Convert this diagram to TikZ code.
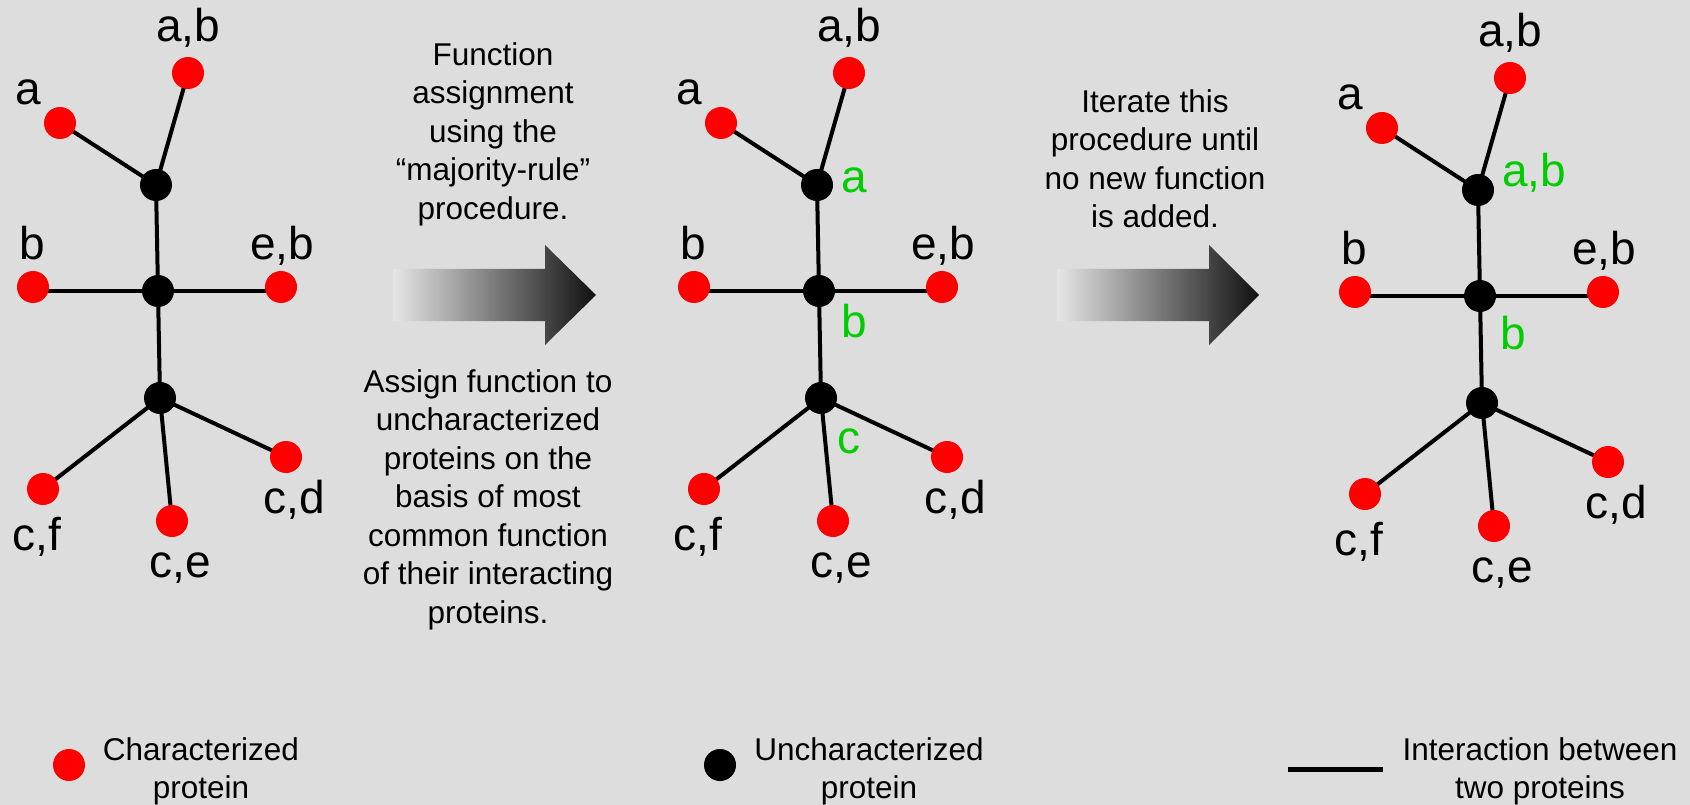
\documentclass[tikz,border=0pt]{standalone}
\usepackage{fontspec}
\setmainfont{Liberation Sans}
\definecolor{bg}{RGB}{221,221,221}
\definecolor{fgreen}{RGB}{0,204,0}
\definecolor{fred}{RGB}{255,0,0}
\definecolor{arrL}{RGB}{230,230,230}
\definecolor{arrR}{RGB}{16,16,16}
\pgfdeclarelayer{background}
\pgfsetlayers{background,main}
\begin{document}
\begin{tikzpicture}[x=1pt,y=-1pt,
  chr/.style={circle,fill=fred,minimum size=32pt,inner sep=0pt},
  unc/.style={circle,fill=black,minimum size=32pt,inner sep=0pt},
  edge/.style={line width=4pt,black},
  lab/.style={anchor=base,font=\fontsize{46}{50}\selectfont,inner sep=0pt},
  glab/.style={anchor=base west,text=fgreen,font=\fontsize{46}{50}\selectfont,inner sep=0pt},
  desc/.style={anchor=north,align=center,font=\fontsize{31.5}{38.5}\selectfont,inner sep=0pt},
  bigarrow/.style={left color=arrL,right color=arrR,draw=none}
]
\begin{pgfonlayer}{background}
\fill[bg] (0,0) rectangle (1690,805);
\end{pgfonlayer}
\useasboundingbox (0,0) rectangle (1690,805);

\foreach \g/\dx/\dy in {1/0/0,2/661/0,3/1322/5}{
\begin{scope}[shift={(\dx,\dy)}]
  \node[unc] (g\g-u1) at (156,185) {};
  \node[unc] (g\g-u2) at (158,291) {};
  \node[unc] (g\g-u3) at (160,398) {};
  \node[chr] (g\g-a)  at (60,123) {};
  \node[chr] (g\g-ab) at (188,73) {};
  \node[chr] (g\g-b)  at (33,287) {};
  \node[chr] (g\g-eb) at (281,287) {};
  \node[chr] (g\g-cd) at (286,457) {};
  \node[chr] (g\g-ce) at (172,521) {};
  \node[chr] (g\g-cf) at (43,489) {};
  \begin{pgfonlayer}{background}
  \draw[edge] (g\g-u1.center) -- (g\g-u2.center);
  \draw[edge] (g\g-u2.center) -- (g\g-u3.center);
  \draw[edge] (g\g-u1.center) -- (g\g-a.center);
  \draw[edge] (g\g-u1.center) -- (g\g-ab.center);
  \draw[edge] (g\g-u2.center) -- (g\g-u2.center -| g\g-b.center);
  \draw[edge] (g\g-u2.center) -- (g\g-u2.center -| g\g-eb.center);
  \draw[edge] (g\g-u3.center) -- (g\g-cd.center);
  \draw[edge] (g\g-u3.center) -- (g\g-ce.center);
  \draw[edge] (g\g-u3.center) -- (g\g-cf.center);
  \end{pgfonlayer}
  \node[lab] (g\g-lab) at (188,42) {a,b};
  \node[lab] (g\g-la)  at (28,105) {a};
  \node[lab] (g\g-lb)  at (32,260) {b};
  \node[lab] (g\g-leb) at (282,260) {e,b};
  \node[lab] (g\g-lcd) at (294,513) {c,d};
  \node[lab] (g\g-lcf) at (37,550) {c,f};
  \node[lab] (g\g-lce) at (180,577) {c,e};
\end{scope}
}

% green assigned functions
\node[glab] (g2-fa) at (841,193) {a};
\node[glab] (g2-fb) at (841,337) {b};
\node[glab] (g2-fc) at (837,453) {c};
\node[glab] (g3-fab) at (1502,187) {a,b};
\node[glab] (g3-fb) at (1500,349) {b};

% arrows
\shade[bigarrow] (393,269) -- (545,269) -- (545,245) -- (596,295) -- (545,345) -- (545,321) -- (393,321) -- cycle;
\shade[bigarrow] (1057,269) -- (1209,269) -- (1209,245) -- (1259,295) -- (1209,345) -- (1209,321) -- (1057,321) -- cycle;

% descriptions
\node[desc] (t1top) at (493,42.3) {Function\\assignment\\using the\\“majority-rule”\\procedure.};
\node[desc] (t1bot) at (488,369) {Assign function to\\uncharacterized\\proteins on the\\basis of most\\common function\\of their interacting\\proteins.};
\node[desc] (t2) at (1155,89.3) {Iterate this\\procedure until\\no new function\\is added.};

% legend
\node[chr] (lg-chr) at (69,765) {};
\node[desc] (lg-chr-t) at (201,737) {Characterized\\protein};
\node[unc] (lg-unc) at (720,765) {};
\node[desc] (lg-unc-t) at (869,737) {Uncharacterized\\protein};
\coordinate (lg-l1) at (1288,769);
\coordinate (lg-l2) at (1383,769);
\draw[line width=5pt] (lg-l1) -- (lg-l2);
\node[desc] (lg-int-t) at (1540,737) {Interaction between\\two proteins};
\end{tikzpicture}
\end{document}
